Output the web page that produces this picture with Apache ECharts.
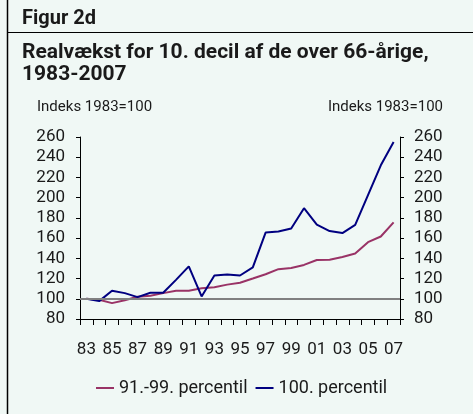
<!DOCTYPE html>
<html>
<head>
<meta charset="utf-8">
<script src="https://cdn.jsdelivr.net/npm/echarts@6/dist/echarts.min.js"></script>
<style>
  html, body { margin: 0; padding: 0; background: #f0f8f5; }
  #chart { width: 473px; height: 414px; }
</style>
</head>
<body>
<div id="chart"></div>
<script>
// år (1983-2007)
var years = ['83','84','85','86','87','88','89','90','91','92','93','94','95',
             '96','97','98','99','00','01','02','03','04','05','06','07'];
// 91.-99. percentil
var p91to99 = [100, 99, 95.7, 98.5, 102, 103, 105.6, 108, 108, 110.5, 111.5, 114, 115.8,
               120, 124.3, 129.3, 130.5, 133.5, 138.4, 138.7, 141.4, 144.7, 156, 161.6, 175.5];
// 100. percentil
var p100 = [100, 97.7, 108, 105.6, 101.6, 106, 106, 118.7, 132, 102.3, 123, 124, 123,
            131, 165.5, 166.5, 169.5, 189.6, 173.4, 167, 165, 173, 202.5, 232, 255];
var seriesNames = ['91.-99. percentil', '100. percentil'];
var baseLevel = 100;

var font = 'Roboto';
var txt = '#1a1a1a';

var chart = echarts.init(document.getElementById('chart'));

function yAx(pos, margin) {
  return {
    type: 'value', position: pos, min: 80, max: 260, interval: 20,
    axisLine: { show: true, lineStyle: { color: '#000', width: 1 } },
    axisTick: { show: true, length: 4, lineStyle: { color: '#000' } },
    splitLine: { show: false },
    axisLabel: { fontFamily: font, fontSize: 17, color: txt, margin: margin }
  };
}

var option = {
  backgroundColor: '#f0f8f5',
  animation: false,
  grid: { left: 80, right: 73, top: 137, bottom: 95 },
  graphic: [
    { type: 'line', shape: { x1: 7.5, y1: 0, x2: 7.5, y2: 414 }, style: { stroke: '#000', lineWidth: 1.5 } },
    { type: 'line', shape: { x1: 7, y1: 32.5, x2: 473, y2: 32.5 }, style: { stroke: '#000', lineWidth: 1 } },
    { type: 'text', left: 22, top: 9, style: { text: 'Figur 2d', font: 'bold 20px Roboto', fill: txt } },
    { type: 'text', left: 22, top: 42, style: { text: 'Realvækst for 10. decil af de over 66-årige,', font: 'bold 21px Roboto', fill: txt } },
    { type: 'text', left: 22, top: 64, style: { text: '1983-2007', font: 'bold 21px Roboto', fill: txt } },
    { type: 'text', left: 37, top: 100, style: { text: 'Indeks 1983=100', font: '15px Roboto', fill: txt } },
    { type: 'text', right: 30, top: 100, style: { text: 'Indeks 1983=100', font: '15px Roboto', fill: txt } }
  ],
  legend: {
    data: seriesNames,
    left: 91, top: 374,
    icon: 'rect', itemWidth: 18, itemHeight: 2, itemGap: 8,
    textStyle: { fontFamily: font, fontSize: 18, color: txt }
  },
  xAxis: {
    type: 'category', data: years, boundaryGap: true,
    axisLine: { lineStyle: { color: '#000', width: 1 } },
    axisTick: { show: true, interval: 0, length: 6, lineStyle: { color: '#000' } },
    axisLabel: { interval: 1, fontFamily: font, fontSize: 17, color: txt, margin: 22 },
    splitLine: { show: false }
  },
  yAxis: [yAx('left', 15), yAx('right', 14)],
  series: [
    {
      name: 'ref', type: 'line', data: [], z: 1, silent: true,
      markLine: {
        silent: true, symbol: ['none', 'none'], label: { show: false },
        lineStyle: { color: '#808080', width: 2, type: 'solid' },
        data: [{ yAxis: baseLevel }]
      }
    },
    {
      name: seriesNames[0], type: 'line', data: p91to99, z: 3,
      showSymbol: false, symbol: 'none',
      itemStyle: { color: '#993366' },
      lineStyle: { color: '#993366', width: 2 }
    },
    {
      name: seriesNames[1], type: 'line', data: p100, z: 4,
      showSymbol: false, symbol: 'none',
      itemStyle: { color: '#000080' },
      lineStyle: { color: '#000080', width: 2 }
    }
  ]
};

chart.setOption(option);
</script>
</body>
</html>
